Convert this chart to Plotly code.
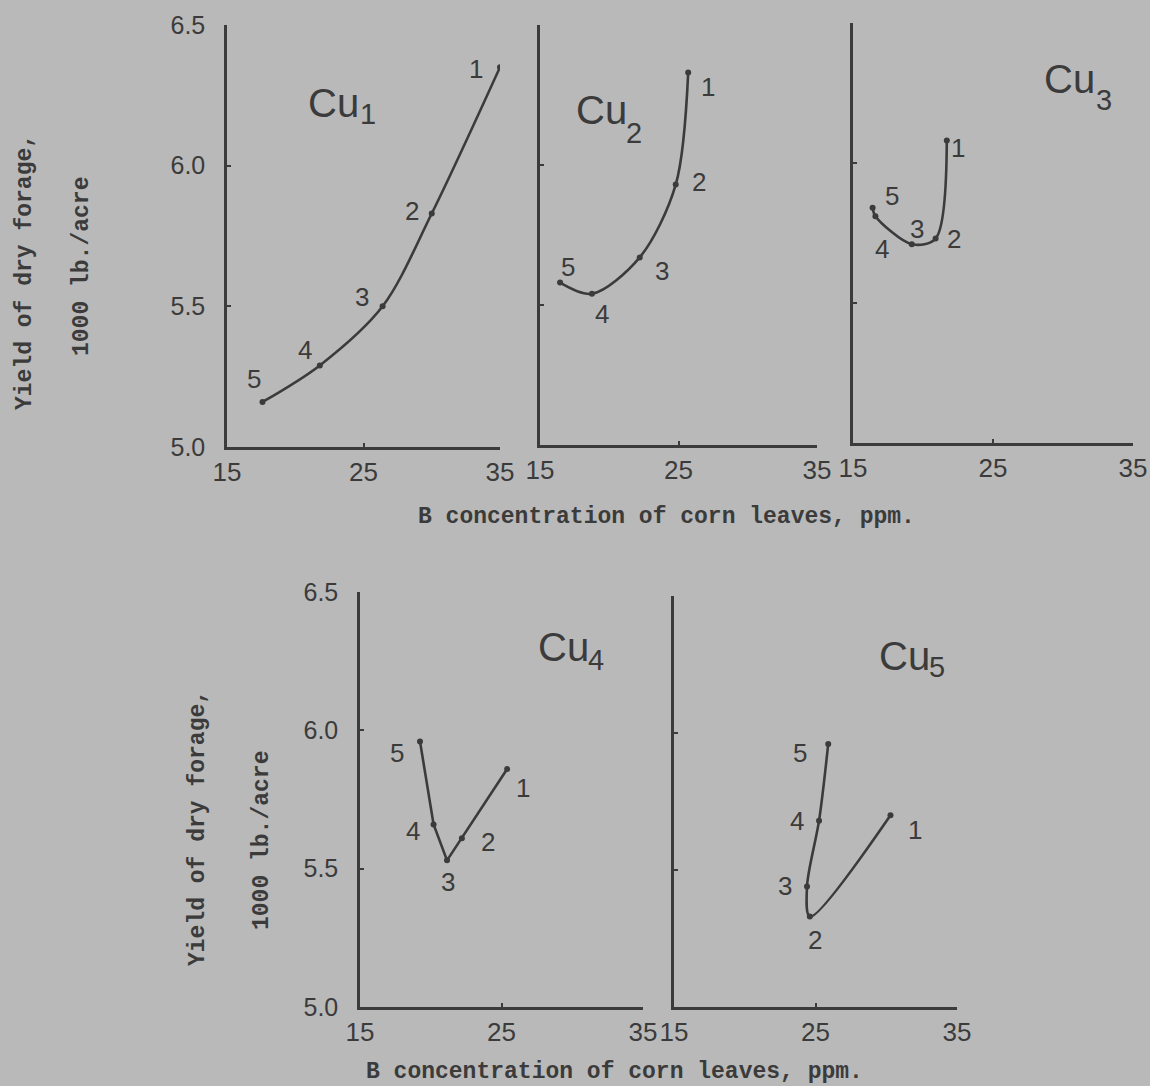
import plotly.graph_objects as go

W, H = 1150, 1086
INK = "#3b3b3b"
PAPER = "#b9b9b9"

# B concentration of corn leaves (ppm) and yield of dry forage (1000 lb./acre),
# listed for treatment points 1..5 at each Cu level
cu1_b = [35.0, 30.0, 26.4, 21.8, 17.6]
cu1_yield = [6.35, 5.83, 5.50, 5.29, 5.16]

cu2_b = [25.7, 24.8, 22.2, 18.75, 16.45]
cu2_yield = [6.33, 5.93, 5.67, 5.54, 5.58]

cu3_b = [21.7, 20.9, 19.2, 16.6, 16.4]
cu3_yield = [6.08, 5.73, 5.71, 5.81, 5.84]

cu4_b = [25.4, 22.2, 21.15, 20.2, 19.24]
cu4_yield = [5.86, 5.61, 5.53, 5.66, 5.96]

cu5_b = [30.3, 24.6, 24.4, 25.25, 25.9]
cu5_yield = [5.70, 5.33, 5.44, 5.68, 5.96]

point_ids = ["1", "2", "3", "4", "5"]
cu_levels = ["1", "2", "3", "4", "5"]
x_ticks = [15, 25, 35]
y_ticks = [5.0, 5.5, 6.0, 6.5]
y_tick_text = ["5.0", "5.5", "6.0", "6.5"]

series = [(cu1_b, cu1_yield), (cu2_b, cu2_yield), (cu3_b, cu3_yield),
          (cu4_b, cu4_yield), (cu5_b, cu5_yield)]

# panel frames in screen pixels: left, right, bottom, top
frames = [(227, 500, 447, 25), (540, 817, 445, 25), (853, 1133, 443, 23),
          (360, 643, 1007, 592), (674, 957, 1007, 596)]
show_y_labels = [True, False, False, True, False]
smooth = [True, True, True, False, True]

# pixel offsets (right, down) of each point number from its point
label_offsets = [
    [(-24, 2), (-20, -2), (-21, -9), (-15, -15), (-8, -23)],
    [(20, 14), (23, -3), (22, 14), (10, 20), (8, -16)],
    [(11, 7), (18, 0), (5, -15), (7, 33), (19, -12)],
    [(16, 19), (26, 4), (1, 22), (-21, 7), (-23, 12)],
    [(25, 15), (5, 23), (-22, 0), (-22, 0), (-28, 9)],
]
# panel name "Cu" centres and their subscript centres, screen pixels
name_pos = [(333, 103), (601, 110), (1069, 79), (563, 647), (904, 656)]
sub_pos = [(368, 114), (634, 133), (1104, 100), (596, 660), (937, 667)]

hand_font = dict(family="Liberation Sans, Arial, sans-serif", color=INK)
type_font = dict(family="Liberation Mono, Courier New, monospace", color=INK,
                 size=23, weight="bold")

fig = go.Figure()
layout = dict(
    width=W, height=H, autosize=False,
    margin=dict(l=0, r=0, t=0, b=0, pad=0, autoexpand=False),
    paper_bgcolor=PAPER, plot_bgcolor=PAPER,
    showlegend=False,
)
annotations = []


def paper_note(text, px, py, size=None, font=None, angle=0):
    return dict(
        x=px / W, y=1 - py / H, xref="paper", yref="paper", text=text,
        showarrow=False, textangle=angle, xanchor="center", yanchor="middle",
        font=font if font is not None else dict(size=size, **hand_font),
    )


for i, ((bx, yy), (l, r, b, t)) in enumerate(zip(series, frames)):
    n = i + 1
    xa = "xaxis" if n == 1 else f"xaxis{n}"
    ya = "yaxis" if n == 1 else f"yaxis{n}"
    xref = "x" if n == 1 else f"x{n}"
    yref = "y" if n == 1 else f"y{n}"

    fig.add_trace(go.Scatter(
        x=bx, y=yy, xaxis=xref, yaxis=yref, mode="lines+markers",
        line=dict(color=INK, width=2.6,
                  shape="spline" if smooth[i] else "linear", smoothing=0.9),
        marker=dict(color=INK, size=6),
        hoverinfo="skip",
    ))

    layout[xa] = dict(
        domain=[l / W, r / W], anchor=yref, range=[15, 35],
        showline=True, linecolor=INK, linewidth=2.5,
        showgrid=False, zeroline=False, automargin=False,
        tickmode="array", tickvals=x_ticks, ticktext=[str(v) for v in x_ticks],
        ticks="inside", ticklen=4, tickwidth=2, tickcolor=INK,
        tickfont=dict(size=26, **hand_font), ticklabelstandoff=0,
    )
    yaxis = dict(
        domain=[1 - b / H, 1 - t / H], anchor=xref, range=[5.0, 6.5],
        showline=True, linecolor=INK, linewidth=2.5,
        showgrid=False, zeroline=False, automargin=False,
        ticks="inside", ticklen=4, tickwidth=2, tickcolor=INK,
    )
    if show_y_labels[i]:
        yaxis.update(tickmode="array", tickvals=y_ticks, ticktext=y_tick_text,
                     tickfont=dict(size=25, **hand_font), ticklabelstandoff=14)
    else:
        yaxis.update(tickmode="array", tickvals=[5.5, 6.0], showticklabels=False)
    layout[ya] = yaxis

    for pid, xv, yv, (dx, dy) in zip(point_ids, bx, yy, label_offsets[i]):
        annotations.append(dict(
            x=xv, y=yv, xref=xref, yref=yref, text=pid, showarrow=False,
            xanchor="center", yanchor="middle",
            xshift=dx, yshift=-dy, font=dict(size=26, **hand_font),
        ))

    annotations.append(paper_note("Cu", *name_pos[i], size=40))
    annotations.append(paper_note(cu_levels[i], *sub_pos[i], size=29))

# axis titles (typewritten)
titles = [
    ("Yield of dry forage,", 25, 272, -90),
    ("1000 lb./acre", 82, 267, -90),
    ("Yield of dry forage,", 198, 828, -90),
    ("1000 lb./acre", 262, 841, -90),
    ("B concentration of corn leaves, ppm.", 666, 517, 0),
    ("B concentration of corn leaves, ppm.", 614, 1072, 0),
]
for txt, px, py, ang in titles:
    annotations.append(paper_note(txt, px, py, font=type_font, angle=ang))

layout["annotations"] = annotations
fig.update_layout(**layout)
fig.write_html("out.html")
